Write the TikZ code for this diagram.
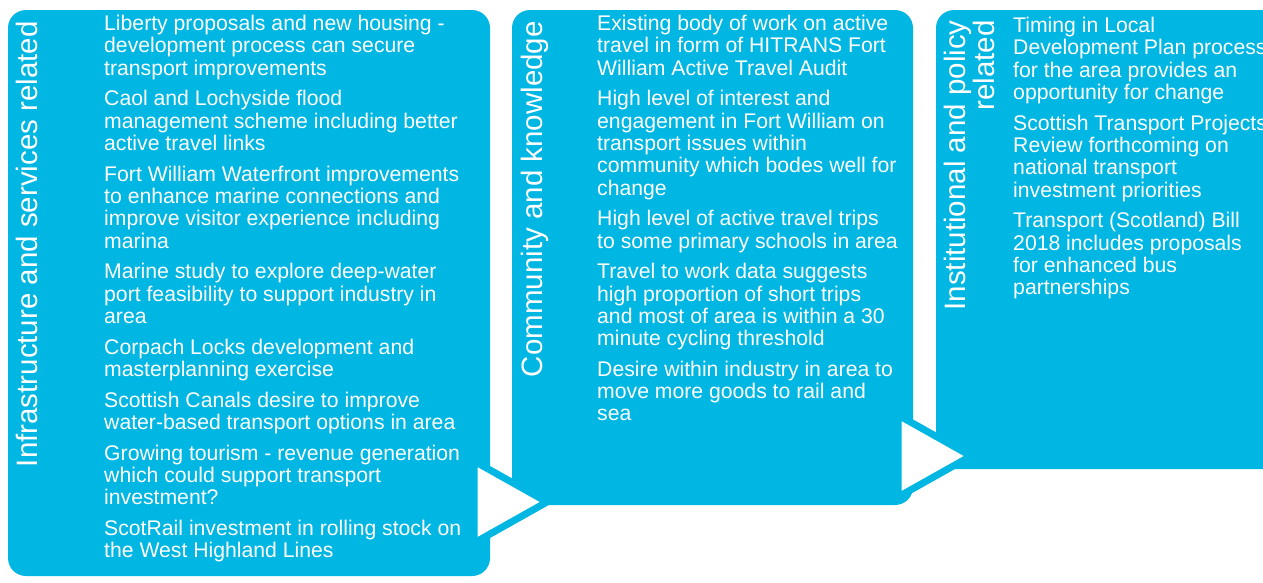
\documentclass[tikz,border=0pt]{standalone}
\usepackage{fontspec}
\setmainfont{Liberation Sans}
\definecolor{hiblue}{RGB}{0,182,226}
\tikzset{
  panel/.style={fill=hiblue, rounded corners=18pt},
  heading/.style={rotate=90, anchor=north east, inner sep=0pt, text=white,
    align=right, font=\fontsize{29.5}{28.5}\selectfont},
  itemtext/.style={anchor=north west, inner sep=0pt, text=white, align=left,
    font=\fontsize{21.2}{22.3}\selectfont},
  chevron/.style={fill=white, draw=hiblue, line width=7pt, line join=round},
}

\begin{document}
\begin{tikzpicture}[x=1pt, y=-1pt]

\path[use as bounding box] (0,0) rectangle (1263,582);
\clip (0,0) rectangle (1263,582);

% Panels
\fill[panel] (8,10) rectangle (490,576);
\fill[panel] (512,10) rectangle (913,505);
\fill[panel] (936,10) rectangle (1300,469);

% Headings
\path (16,21) node[heading] (infra) {Infrastructure and services related}
(521,21) node[heading] (community) {Community and knowledge}
(944,20) node[heading] (policy) {Institutional and policy\\related}
;

% Item lists
\path (104,15) node[itemtext] (infralist) {%
Liberty proposals and new housing -\\
development process can secure\\
transport improvements\\[8.4pt]
Caol and Lochyside flood\\
management scheme including better\\
active travel links\\[8.4pt]
Fort William Waterfront improvements\\
to enhance marine connections and\\
improve visitor experience including\\
marina\\[8.4pt]
Marine study to explore deep-water\\
port feasibility to support industry in\\
area\\[8.4pt]
Corpach Locks development and\\
masterplanning exercise\\[8.4pt]
Scottish Canals desire to improve\\
water-based transport options in area\\[8.4pt]
Growing tourism - revenue generation\\
which could support transport\\
investment?\\[8.4pt]
ScotRail investment in rolling stock on\\
the West Highland Lines};

\path (597,15) node[itemtext] (communitylist) {%
Existing body of work on active\\
travel in form of HITRANS Fort\\
William Active Travel Audit\\[8.4pt]
High level of interest and\\
engagement in Fort William on\\
transport issues within\\
community which bodes well for\\
change\\[8.4pt]
High level of active travel trips\\
to some primary schools in area\\[8.4pt]
Travel to work data suggests\\
high proportion of short trips\\
and most of area is within a 30\\
minute cycling threshold\\[8.4pt]
Desire within industry in area to\\
move more goods to rail and\\
sea};

\path (1013,17) node[itemtext] (policylist) {%
Timing in Local\\
Development Plan process\\
for the area provides an\\
opportunity for change\\[8.4pt]
Scottish Transport Projects\\
Review forthcoming on\\
national transport\\
investment priorities\\[8.4pt]
Transport (Scotland) Bill\\
2018 includes proposals\\
for enhanced bus\\
partnerships};

% Chevrons
\filldraw[chevron] (474,461) -- (547,502) -- (474,543) -- cycle;
\filldraw[chevron] (898,415) -- (971,456) -- (898,497) -- cycle;

\end{tikzpicture}
\end{document}
